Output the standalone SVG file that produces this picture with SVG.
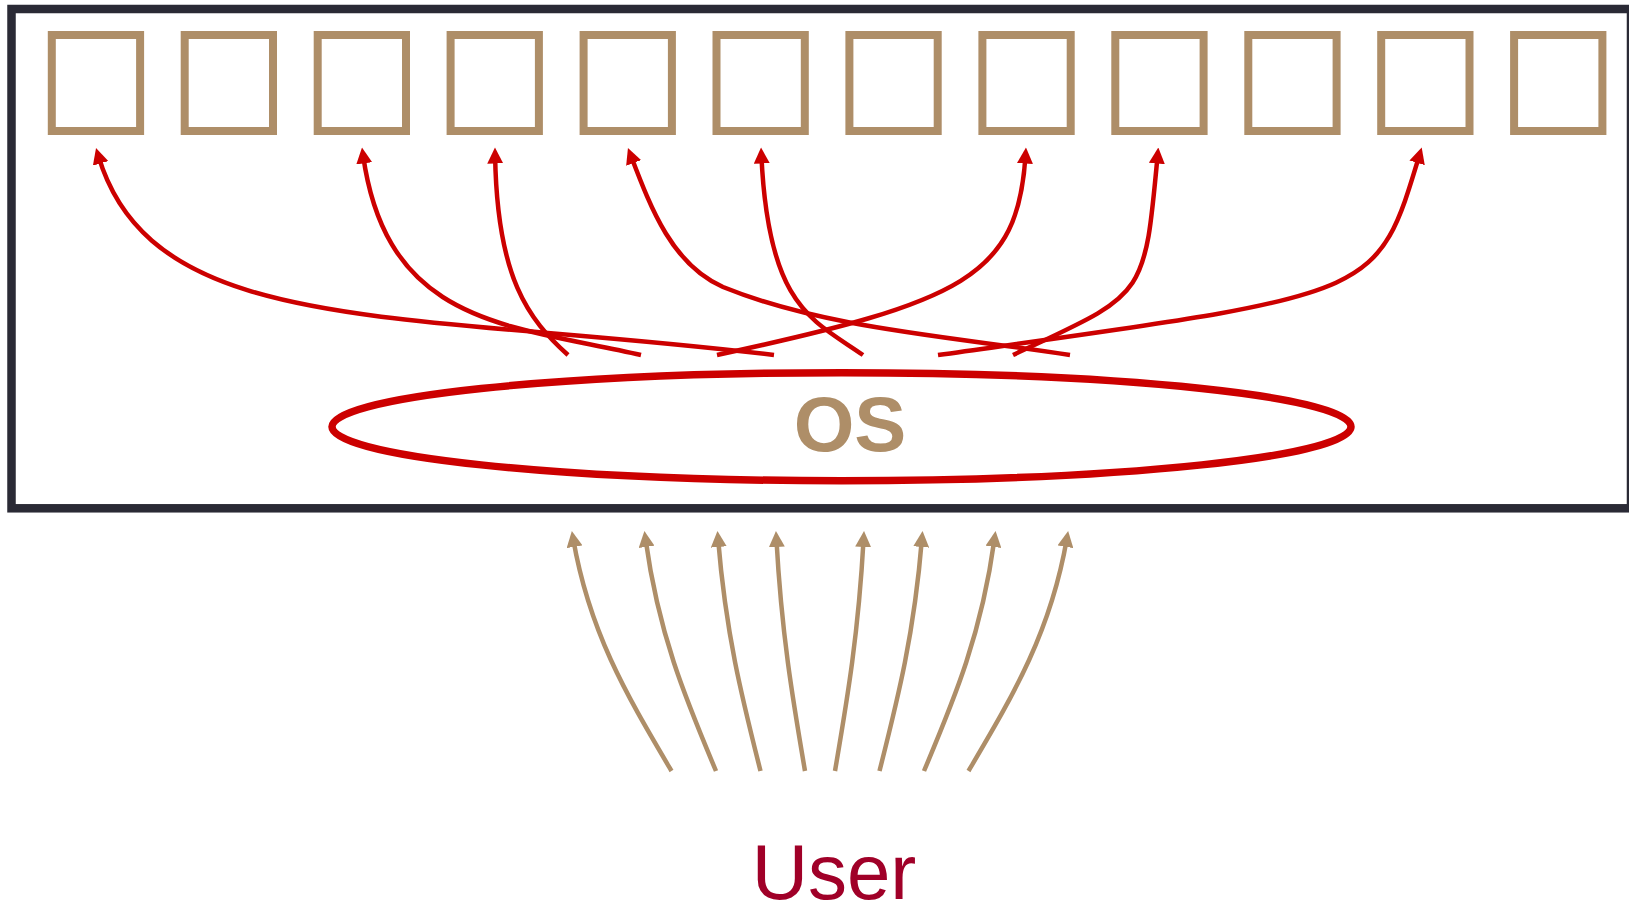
<svg xmlns="http://www.w3.org/2000/svg" width="1629" height="904" viewBox="0 0 1629 904">
  <style>
    .frame { fill: none; stroke: #2a2a35; stroke-width: 8.5; }
    .slot { fill: #ffffff; stroke: #ae8e68; stroke-width: 8; }
    .os-shape { fill: none; stroke: #cc0000; stroke-width: 7.5; }
    .os-label { font-family: "Liberation Sans", Arial, sans-serif; font-weight: bold; font-size: 78px; fill: #ae8e68; text-anchor: middle; }
    .user-label { font-family: "Liberation Sans", Arial, sans-serif; font-size: 78px; fill: #a00028; text-anchor: middle; }
    .map { fill: none; stroke: #cc0000; stroke-width: 4.5; marker-end: url(#head-red); }
    .call { fill: none; stroke: #ae8e68; stroke-width: 4.5; marker-end: url(#head-tan); }
  </style>
  <defs>
    <marker id="head-red" markerUnits="userSpaceOnUse" markerWidth="16" markerHeight="16" viewBox="0 0 16 16" refX="8" refY="8" orient="auto">
      <path d="M0,0 L16,8 L0,16 z" fill="#cc0000"/>
    </marker>
    <marker id="head-tan" markerUnits="userSpaceOnUse" markerWidth="16" markerHeight="16" viewBox="0 0 16 16" refX="8" refY="8" orient="auto">
      <path d="M0,0 L16,8 L0,16 z" fill="#ae8e68"/>
    </marker>
  </defs>

  <rect x="0" y="0" width="1629" height="904" fill="#ffffff"/>

  <!-- machine boundary -->
  <g id="machine">
    <rect class="frame" x="11.5" y="9" width="1619.5" height="499.3"/>
  </g>

  <!-- row of memory slots -->
  <g id="slot-0"><rect class="slot" x="51.8" y="35" width="88.3" height="96"/></g>
  <g id="slot-1"><rect class="slot" x="184.7" y="35" width="88.3" height="96"/></g>
  <g id="slot-2"><rect class="slot" x="317.7" y="35" width="88.3" height="96"/></g>
  <g id="slot-3"><rect class="slot" x="450.6" y="35" width="88.3" height="96"/></g>
  <g id="slot-4"><rect class="slot" x="583.6" y="35" width="88.3" height="96"/></g>
  <g id="slot-5"><rect class="slot" x="716.5" y="35" width="88.3" height="96"/></g>
  <g id="slot-6"><rect class="slot" x="849.4" y="35" width="88.3" height="96"/></g>
  <g id="slot-7"><rect class="slot" x="982.4" y="35" width="88.3" height="96"/></g>
  <g id="slot-8"><rect class="slot" x="1115.3" y="35" width="88.3" height="96"/></g>
  <g id="slot-9"><rect class="slot" x="1248.3" y="35" width="88.3" height="96"/></g>
  <g id="slot-10"><rect class="slot" x="1381.2" y="35" width="88.3" height="96"/></g>
  <g id="slot-11"><rect class="slot" x="1514.1" y="35" width="88.3" height="96"/></g>

  <!-- operating system -->
  <g id="os">
    <ellipse class="os-shape" cx="841.5" cy="426.7" rx="509.5" ry="54"/>
    <text class="os-label" x="850" y="451">OS</text>
  </g>

  <!-- user -->
  <g id="user">
    <text class="user-label" x="834" y="899">User</text>
  </g>

  <g id="connectors">
    <!-- OS to slots -->
    <path class="map" d="M774,355 C400,310 152.3,337.7 98.3,155.7"/>
    <path class="map" d="M641,355 C510,325 387.1,325.9 363.1,155.4"/>
    <path class="map" d="M568,355 C528,319 497.1,278 495.1,155.5"/>
    <path class="map" d="M1070,355 C950,336.5 823.5,328 723,287 C672.7,264.7 651.7,210.5 630.8,155.5"/>
    <path class="map" d="M863,355 C813,320 768.4,308 761.4,155.5"/>
    <path class="map" d="M717,355 C963,302 1017.9,276.7 1025.5,155.5"/>
    <path class="map" d="M1013,355 C1145,293 1144.3,301 1157.6,155.5"/>
    <path class="map" d="M938,355 C1378,293 1375.7,300.7 1419.4,155.2"/>

    <!-- user to OS -->
    <path class="call" d="M671.5,771 C627.5,696.3 589.5,633.2 573.2,538.9"/>
    <path class="call" d="M716,771 C684.5,696.3 658.4,633.2 645.5,538.9"/>
    <path class="call" d="M760.5,771 C741.6,696.3 725.8,633.2 718.1,539"/>
    <path class="call" d="M805,771 C792.2,696.3 781.6,633.2 776.4,539"/>
    <path class="call" d="M835,771 C847.8,696.3 858.4,633.2 863.6,539"/>
    <path class="call" d="M879.5,771 C898.4,696.3 914.2,633.2 921.9,539"/>
    <path class="call" d="M924,771 C955.5,696.3 981.6,633.2 994.5,538.9"/>
    <path class="call" d="M968.5,771 C1012.5,696.3 1050.5,633.2 1066.8,538.9"/>
  </g>
</svg>
